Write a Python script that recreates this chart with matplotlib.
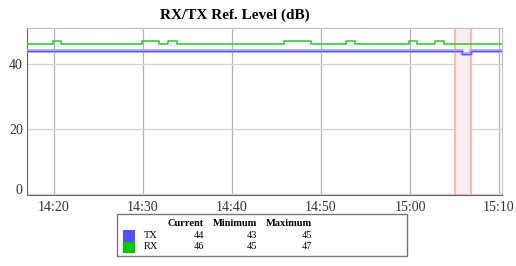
import matplotlib.pyplot as plt
import matplotlib.dates as mdates
import matplotlib.transforms as mtransforms
import pandas as pd

plt.rcParams['font.family'] = ['Liberation Serif', 'DejaVu Serif']

# one sample per minute, samples taken at hh:mm:50
times = pd.date_range('2024-01-01 14:16:50', periods=55, freq='min')
rx = [46, 46, 46, 47, 46, 46, 46, 46, 46, 46,
      46, 46, 46, 47, 47, 46, 47, 46, 46, 46,
      46, 46, 46, 46, 46, 46, 46, 46, 46, 47,
      47, 47, 46, 46, 46, 46, 47, 46, 46, 46,
      46, 46, 46, 47, 46, 46, 47, 46, 46, 46,
      46, 46, 46, 46, 46]
tx = [44, 44, 44, 44, 44, 44, 44, 44, 44, 44,
      44, 44, 44, 44, 44, 44, 44, 44, 44, 44,
      44, 44, 44, 44, 44, 44, 44, 44, 44, 44,
      44, 44, 44, 44, 44, 44, 44, 44, 44, 44,
      44, 44, 44, 44, 44, 44, 44, 44, 44, 43,
      44, 44, 44, 44, 44]

alarm_start = pd.Timestamp('2024-01-01 15:05:00')
alarm_end = pd.Timestamp('2024-01-01 15:06:50')

legend_rows = [('TX', '#5050ff', 44, 43, 45),
               ('RX', '#00cc00', 46, 45, 47)]

fig = plt.figure(figsize=(5.16, 2.66), dpi=100)
ax = fig.add_axes([27/516, 1-195/266, 475/516, 167/266])

ax.axvspan(alarm_start, alarm_end, facecolor='#fdeeee', edgecolor='#ffaaaa', lw=1.2, zorder=1)

ax.step(times, tx, where='post', color='#a8a8ff', lw=2.6, zorder=3)
ax.step(times, tx, where='post', color='#5a5aff', lw=0.9, zorder=4)
ax.step(times, rx, where='post', color='#22cc22', lw=1.1, zorder=4)

ax.set_xlim(pd.Timestamp('2024-01-01 14:16:58'), pd.Timestamp('2024-01-01 15:10:20'))
ax.set_ylim(-0.3, 50.9)
ax.set_yticks([0, 20, 40])
ax.xaxis.set_major_locator(mdates.MinuteLocator(byminute=[0, 10, 20, 30, 40, 50]))
ax.xaxis.set_major_formatter(mdates.DateFormatter('%H:%M'))

ax.grid(axis='x', color='#b4b4b4', lw=0.9)
ax.grid(axis='y', color='#d4d4d4', lw=0.9)
ax.set_axisbelow(True)
ax.tick_params(length=0, labelsize=10, colors='#333333', pad=4)
ax.tick_params(axis='y', pad=3)
for s in ['left', 'bottom']:
    ax.spines[s].set_color('#666666')
for s in ['top', 'right']:
    ax.spines[s].set_color('#c0c0c0')

# the "0" label sits a little above the axis line
fig.canvas.draw()
zero_lbl = ax.get_yticklabels()[0]
zero_lbl.set_transform(zero_lbl.get_transform() +
                       mtransforms.ScaledTranslation(0, 5/100, fig.dpi_scale_trans))

fig.text(235/516, 1-15/266, 'RX/TX Ref. Level (dB)', ha='center', va='center',
         fontsize=11, fontweight='bold')

# legend table
box = plt.Rectangle((117/516, 1-256/266), 290/516, 42/266, transform=fig.transFigure,
                    facecolor='white', edgecolor='#777777', lw=1)
fig.patches.append(box)
hy = 1-224/266
for label, x in [('Current', 204), ('Minimum', 257), ('Maximum', 312)]:
    fig.text(x/516, hy, label, ha='right', va='center', fontsize=7.5, fontweight='bold')
for i, (name, col, cur, mn, mx) in enumerate(legend_rows):
    y = 1-(235.5 + 11*i)/266
    sq = plt.Rectangle((123/516, 1-(241.5 + 11.5*i)/266), 12/516, 11.5/266,
                       transform=fig.transFigure, facecolor=col, edgecolor='none')
    fig.patches.append(sq)
    fig.text(144/516, y, name, ha='left', va='center', fontsize=7.5)
    for val, x in [(cur, 204), (mn, 257), (mx, 312)]:
        fig.text(x/516, y, str(val), ha='right', va='center', fontsize=7.5)

fig.savefig('out.png', dpi=100)
